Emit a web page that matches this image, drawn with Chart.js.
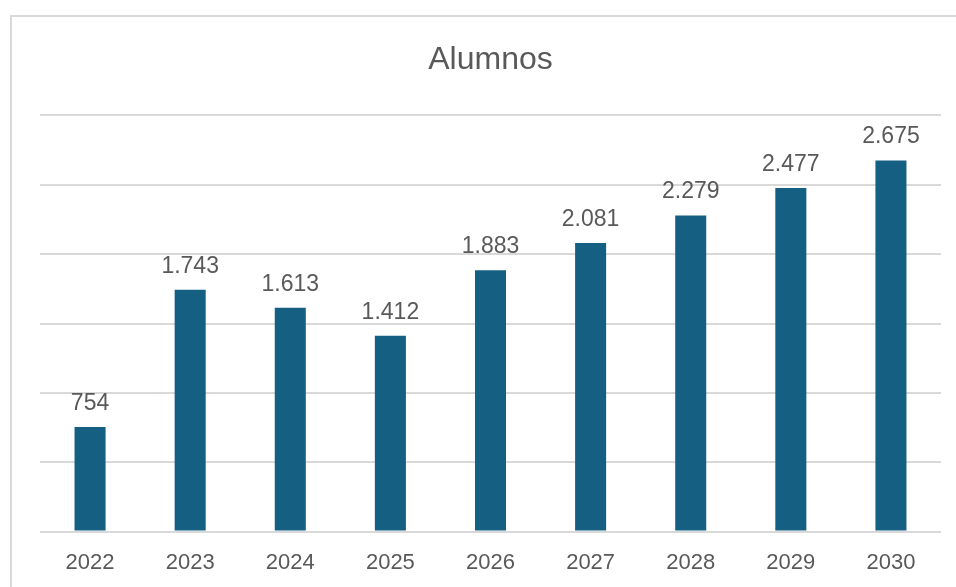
<!DOCTYPE html>
<html>
<head>
<meta charset="utf-8">
<script src="https://cdn.jsdelivr.net/npm/chart.js@4.4.1/dist/chart.umd.min.js"></script>
<style>
    html, body { margin: 0; padding: 0; background: #fff; overflow: hidden; }
    #frame {
        position: absolute; left: 10px; top: 15px;
        width: 1200px; height: 900px;
        border: 2px solid #d9d9d9;
    }
    #chart { position: absolute; left: 0; top: 0; }
</style>
</head>
<body>
<div id="frame"></div>
<canvas id="chart" width="956" height="587"></canvas>
<script>
// Datos del gráfico
const years = ['2022', '2023', '2024', '2025', '2026', '2027', '2028', '2029', '2030'];
const alumnos = [754, 1743, 1613, 1412, 1883, 2081, 2279, 2477, 2675];
const yMin = 0;
const yMax = 3000;
const yStep = 500;

const TEXT = '#595959';
const GRID = '#d9d9d9';
const BAR = '#156082';
const FONT = "'Liberation Sans', Arial, sans-serif";

// Separador de miles con punto (1.743)
const formatNumber = (value) => String(value).replace(/\B(?=(\d{3})+(?!\d))/g, '.');

// Etiquetas encima de cada barra
const barLabels = {
    id: 'barLabels',
    afterDatasetsDraw: (chart) => {
        const ctx = chart.ctx;
        const meta = chart.getDatasetMeta(0);
        ctx.save();
        ctx.font = '23px ' + FONT;
        ctx.fillStyle = TEXT;
        ctx.textAlign = 'center';
        ctx.textBaseline = 'alphabetic';
        meta.data.forEach((bar, i) => {
            ctx.fillText(formatNumber(alumnos[i]), bar.x, bar.y - 17);
        });
        ctx.restore();
    }
};

const config = {
    type: 'bar',
    data: {
        labels: years,
        datasets: [{
            data: alumnos,
            backgroundColor: BAR,
            borderWidth: 0,
            barPercentage: 0.31,
            categoryPercentage: 1
        }]
    },
    options: {
        responsive: false,
        animation: false,
        layout: {
            padding: { left: 40, right: 15, top: 24, bottom: -7 }
        },
        plugins: {
            legend: { display: false },
            tooltip: { enabled: false },
            title: {
                display: true,
                text: 'Alumnos',
                color: TEXT,
                font: { family: FONT, size: 32, weight: 'normal' },
                padding: { top: 17, bottom: 36 }
            }
        },
        scales: {
            x: {
                grid: { display: false, drawTicks: false },
                border: { display: false },
                ticks: {
                    color: TEXT,
                    font: { family: FONT, size: 22 },
                    padding: 18
                }
            },
            y: {
                min: yMin,
                max: yMax,
                grid: { color: GRID, lineWidth: 2, drawTicks: false },
                border: { display: false },
                ticks: { display: false, stepSize: yStep }
            }
        }
    },
    plugins: [barLabels]
};

new Chart(document.getElementById('chart'), config);
</script>
</body>
</html>
